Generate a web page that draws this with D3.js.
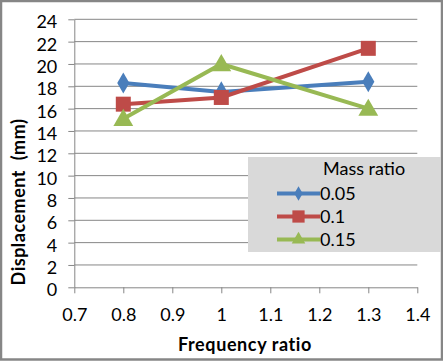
<!DOCTYPE html>
<html>
<head>
<meta charset="utf-8">
<script src="https://cdn.jsdelivr.net/npm/d3@7"></script>
<style>
  body { margin: 0; background: #fff; }
  text { font-family: Lato, "Liberation Sans", sans-serif; fill: #000; }
</style>
</head>
<body>
<div id="chart"></div>
<script>
const freq = [0.8, 1.0, 1.3];
const mass005 = [18.3, 17.5, 18.4];
const mass01 = [16.4, 17.0, 21.4];
const mass015 = [15.1, 20.0, 16.0];
const seriesNames = ["0.05", "0.1", "0.15"];
const xTicks = [0.7, 0.8, 0.9, 1, 1.1, 1.2, 1.3, 1.4];
const yTicks = [0, 2, 4, 6, 8, 10, 12, 14, 16, 18, 20, 22, 24];

const W = 443, H = 361;
const margin = { top: 19.3, right: 25.7, bottom: 73.7, left: 74.3 },
      width = W - margin.left - margin.right,
      height = H - margin.top - margin.bottom;

const colors = ["#4a7ebb", "#be4b48", "#98b954"];
const shapes = [d3.symbolDiamond, d3.symbolSquare, d3.symbolTriangle];

const root = d3.select("#chart").append("svg")
    .attr("width", W)
    .attr("height", H);

// frame
root.append("rect")
    .attr("x", 1).attr("y", 1)
    .attr("width", W - 2).attr("height", H - 2.5)
    .attr("fill", "#fff")
    .attr("stroke", "#868686")
    .attr("stroke-width", 2.5);

const svg = root.append("g")
    .attr("transform", `translate(${margin.left},${margin.top})`);

const x = d3.scaleLinear().domain([0.7, 1.4]).range([0, width]);
const y = d3.scaleLinear().domain([0, 24]).range([height, 0]);

// grid
svg.append("g")
    .selectAll("line")
    .data(yTicks.filter(d => d > 0))
    .join("line")
    .attr("x1", 0).attr("x2", width)
    .attr("y1", d => y(d)).attr("y2", d => y(d))
    .attr("stroke", "#868686");

const yAxis = svg.append("g")
    .call(d3.axisLeft(y).tickValues(yTicks).tickSize(6).tickPadding(11).tickSizeOuter(0));
yAxis.selectAll("text").attr("dy", "0.47em").style("font-size", "18px");

const xAxis = svg.append("g")
    .attr("transform", `translate(0,${height})`)
    .call(d3.axisBottom(x).tickValues(xTicks).tickFormat(d3.format("")).tickSize(6).tickSizeOuter(0));
xAxis.selectAll("text").attr("y", 34).attr("dy", 0).style("font-size", "18px");

root.selectAll(".domain, .tick line").attr("stroke", "#868686");

// axis titles
svg.append("text")
    .attr("x", 245 - margin.left)
    .attr("y", 351 - margin.top)
    .attr("text-anchor", "middle")
    .attr("font-weight", "bold")
    .style("font-size", "18px")
    .style("letter-spacing", "0.6px")
    .text("Frequency ratio");

svg.append("text")
    .attr("transform", `translate(${25 - margin.left},${202 - margin.top}) rotate(-90)`)
    .attr("text-anchor", "middle")
    .attr("font-weight", "bold")
    .style("font-size", "18px")
    .style("letter-spacing", "0.5px")
    .style("white-space", "pre")
    .text("Displacement  (mm)");

// series
const allSeries = [mass005, mass01, mass015];
const sizes = [128, 225, 170];
const line = d3.line().x((d, i) => x(freq[i])).y(d => y(d));

allSeries.forEach((vals, s) => {
    svg.append("path")
        .datum(vals)
        .attr("d", line)
        .attr("fill", "none")
        .attr("stroke", colors[s])
        .attr("stroke-width", 4);
    svg.selectAll(".m" + s)
        .data(vals)
        .join("path")
        .attr("class", "m" + s)
        .attr("transform", (d, i) => `translate(${x(freq[i])},${y(d) + (s === 2 ? 1.5 : 0)})`)
        .attr("d", d3.symbol().type(shapes[s]).size(sizes[s]))
        .attr("fill", colors[s]);
});

// legend
const lg = root.append("g");
lg.append("rect")
    .attr("x", 248).attr("y", 157)
    .attr("width", 193).attr("height", 95)
    .attr("fill", "#d9d9d9");
lg.append("text")
    .attr("x", 323).attr("y", 175)
    .style("font-size", "18px")
    .text("Mass ratio");

seriesNames.forEach((name, s) => {
    const cy = 193.5 + s * 23;
    lg.append("line")
        .attr("x1", 277).attr("x2", 320)
        .attr("y1", cy).attr("y2", cy)
        .attr("stroke", colors[s])
        .attr("stroke-width", 4);
    lg.append("path")
        .attr("transform", `translate(298.5,${cy})`)
        .attr("d", d3.symbol().type(shapes[s]).size([60, 150, 80][s]))
        .attr("fill", colors[s]);
    lg.append("text")
        .attr("x", 320).attr("y", cy + 6.5)
        .style("font-size", "18px")
        .text(name);
});
</script>
</body>
</html>
